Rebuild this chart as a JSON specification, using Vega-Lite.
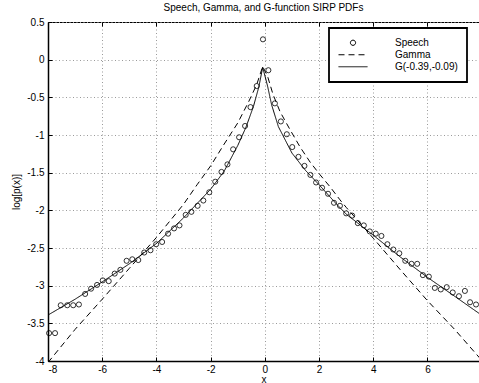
{
  "$schema": "https://vega.github.io/schema/vega-lite/v6.json",
  "width": 431,
  "height": 339,
  "autosize": {"type": "none"},
  "padding": {"left": 48, "top": 22, "right": 0, "bottom": 22},
  "background": "white",
  "title": {
    "text": "Speech, Gamma, and G-function SIRP PDFs",
    "font": "Liberation Sans",
    "fontSize": 10,
    "fontWeight": "normal",
    "color": "black",
    "anchor": "middle",
    "baseline": "alphabetic",
    "offset": 0,
    "dy": 3.5
  },
  "config": {
    "font": "Liberation Sans",
    "view": {"stroke": "black", "strokeWidth": 1},
    "axis": {
      "labelFont": "Liberation Sans",
      "labelFontSize": 10,
      "labelColor": "black",
      "titleFont": "Liberation Sans",
      "titleFontSize": 10,
      "titleFontWeight": "normal",
      "titleColor": "black",
      "domainColor": "black",
      "domainWidth": 1.5,
      "tickColor": "black",
      "tickWidth": 1,
      "tickSize": -4,
      "gridColor": "#9a9a9a",
      "gridDash": [1, 2.5],
      "gridWidth": 1,
      "gridOpacity": 1,
      "labelOverlap": false
    }
  },
  "datasets": {
    "speech": [
      {"series": "Speech", "x": -7.96, "y": -3.63},
      {"series": "Speech", "x": -7.74, "y": -3.63},
      {"series": "Speech", "x": -7.53, "y": -3.26},
      {"series": "Speech", "x": -7.29, "y": -3.26},
      {"series": "Speech", "x": -7.07, "y": -3.26},
      {"series": "Speech", "x": -6.86, "y": -3.25},
      {"series": "Speech", "x": -6.63, "y": -3.11},
      {"series": "Speech", "x": -6.41, "y": -3.04},
      {"series": "Speech", "x": -6.19, "y": -2.99},
      {"series": "Speech", "x": -5.98, "y": -2.93},
      {"series": "Speech", "x": -5.76, "y": -2.94},
      {"series": "Speech", "x": -5.54, "y": -2.84},
      {"series": "Speech", "x": -5.33, "y": -2.79},
      {"series": "Speech", "x": -5.10, "y": -2.67},
      {"series": "Speech", "x": -4.89, "y": -2.65},
      {"series": "Speech", "x": -4.67, "y": -2.66},
      {"series": "Speech", "x": -4.45, "y": -2.56},
      {"series": "Speech", "x": -4.22, "y": -2.53},
      {"series": "Speech", "x": -4.01, "y": -2.45},
      {"series": "Speech", "x": -3.79, "y": -2.42},
      {"series": "Speech", "x": -3.57, "y": -2.31},
      {"series": "Speech", "x": -3.35, "y": -2.24},
      {"series": "Speech", "x": -3.15, "y": -2.20},
      {"series": "Speech", "x": -2.92, "y": -2.06},
      {"series": "Speech", "x": -2.71, "y": -2.02},
      {"series": "Speech", "x": -2.48, "y": -1.94},
      {"series": "Speech", "x": -2.27, "y": -1.87},
      {"series": "Speech", "x": -2.05, "y": -1.76},
      {"series": "Speech", "x": -1.83, "y": -1.62},
      {"series": "Speech", "x": -1.60, "y": -1.49},
      {"series": "Speech", "x": -1.38, "y": -1.39},
      {"series": "Speech", "x": -1.17, "y": -1.19},
      {"series": "Speech", "x": -0.95, "y": -1.03},
      {"series": "Speech", "x": -0.73, "y": -0.88},
      {"series": "Speech", "x": -0.53, "y": -0.63},
      {"series": "Speech", "x": -0.30, "y": -0.35},
      {"series": "Speech", "x": -0.07, "y": 0.27},
      {"series": "Speech", "x": 0.13, "y": -0.14},
      {"series": "Speech", "x": 0.37, "y": -0.58},
      {"series": "Speech", "x": 0.59, "y": -0.82},
      {"series": "Speech", "x": 0.81, "y": -0.99},
      {"series": "Speech", "x": 1.01, "y": -1.16},
      {"series": "Speech", "x": 1.24, "y": -1.29},
      {"series": "Speech", "x": 1.46, "y": -1.41},
      {"series": "Speech", "x": 1.68, "y": -1.53},
      {"series": "Speech", "x": 1.89, "y": -1.63},
      {"series": "Speech", "x": 2.11, "y": -1.70},
      {"series": "Speech", "x": 2.33, "y": -1.78},
      {"series": "Speech", "x": 2.55, "y": -1.90},
      {"series": "Speech", "x": 2.77, "y": -1.94},
      {"series": "Speech", "x": 3.00, "y": -2.04},
      {"series": "Speech", "x": 3.22, "y": -2.07},
      {"series": "Speech", "x": 3.43, "y": -2.17},
      {"series": "Speech", "x": 3.65, "y": -2.20},
      {"series": "Speech", "x": 3.87, "y": -2.28},
      {"series": "Speech", "x": 4.09, "y": -2.31},
      {"series": "Speech", "x": 4.30, "y": -2.34},
      {"series": "Speech", "x": 4.52, "y": -2.45},
      {"series": "Speech", "x": 4.74, "y": -2.52},
      {"series": "Speech", "x": 4.96, "y": -2.57},
      {"series": "Speech", "x": 5.18, "y": -2.67},
      {"series": "Speech", "x": 5.41, "y": -2.71},
      {"series": "Speech", "x": 5.62, "y": -2.71},
      {"series": "Speech", "x": 5.83, "y": -2.86},
      {"series": "Speech", "x": 6.05, "y": -2.88},
      {"series": "Speech", "x": 6.27, "y": -3.03},
      {"series": "Speech", "x": 6.49, "y": -3.05},
      {"series": "Speech", "x": 6.71, "y": -3.02},
      {"series": "Speech", "x": 6.93, "y": -3.09},
      {"series": "Speech", "x": 7.16, "y": -3.14},
      {"series": "Speech", "x": 7.38, "y": -3.07},
      {"series": "Speech", "x": 7.57, "y": -3.22},
      {"series": "Speech", "x": 7.79, "y": -3.25}
    ],
    "curves": [
      {"series": "Gamma", "x": -8.0, "y": -4.02},
      {"series": "Gamma", "x": -7.0, "y": -3.58},
      {"series": "Gamma", "x": -6.0, "y": -3.18},
      {"series": "Gamma", "x": -5.0, "y": -2.77},
      {"series": "Gamma", "x": -4.0, "y": -2.36},
      {"series": "Gamma", "x": -3.0, "y": -1.92},
      {"series": "Gamma", "x": -2.5, "y": -1.66},
      {"series": "Gamma", "x": -2.0, "y": -1.41},
      {"series": "Gamma", "x": -1.5, "y": -1.12},
      {"series": "Gamma", "x": -1.0, "y": -0.84},
      {"series": "Gamma", "x": -0.6, "y": -0.56},
      {"series": "Gamma", "x": -0.3, "y": -0.33},
      {"series": "Gamma", "x": -0.08, "y": -0.09},
      {"series": "Gamma", "x": 0.1, "y": -0.22},
      {"series": "Gamma", "x": 0.3, "y": -0.46},
      {"series": "Gamma", "x": 0.56, "y": -0.69},
      {"series": "Gamma", "x": 0.93, "y": -0.93},
      {"series": "Gamma", "x": 1.3, "y": -1.16},
      {"series": "Gamma", "x": 1.67, "y": -1.36},
      {"series": "Gamma", "x": 2.04, "y": -1.53},
      {"series": "Gamma", "x": 2.41, "y": -1.69},
      {"series": "Gamma", "x": 2.77, "y": -1.86},
      {"series": "Gamma", "x": 3.0, "y": -1.96},
      {"series": "Gamma", "x": 4.0, "y": -2.37},
      {"series": "Gamma", "x": 5.0, "y": -2.79},
      {"series": "Gamma", "x": 6.0, "y": -3.2},
      {"series": "Gamma", "x": 7.0, "y": -3.58},
      {"series": "Gamma", "x": 7.95, "y": -3.97},
      {"series": "G(-0.39,-0.09)", "x": -8.0, "y": -3.39},
      {"series": "G(-0.39,-0.09)", "x": -7.0, "y": -3.18},
      {"series": "G(-0.39,-0.09)", "x": -6.0, "y": -2.95},
      {"series": "G(-0.39,-0.09)", "x": -5.0, "y": -2.71},
      {"series": "G(-0.39,-0.09)", "x": -4.0, "y": -2.44},
      {"series": "G(-0.39,-0.09)", "x": -3.0, "y": -2.10},
      {"series": "G(-0.39,-0.09)", "x": -2.5, "y": -1.91},
      {"series": "G(-0.39,-0.09)", "x": -2.0, "y": -1.72},
      {"series": "G(-0.39,-0.09)", "x": -1.5, "y": -1.48},
      {"series": "G(-0.39,-0.09)", "x": -1.0, "y": -1.14},
      {"series": "G(-0.39,-0.09)", "x": -0.7, "y": -0.90},
      {"series": "G(-0.39,-0.09)", "x": -0.42, "y": -0.62},
      {"series": "G(-0.39,-0.09)", "x": -0.22, "y": -0.36},
      {"series": "G(-0.39,-0.09)", "x": -0.08, "y": -0.10},
      {"series": "G(-0.39,-0.09)", "x": 0.1, "y": -0.35},
      {"series": "G(-0.39,-0.09)", "x": 0.25, "y": -0.60},
      {"series": "G(-0.39,-0.09)", "x": 0.5, "y": -0.89},
      {"series": "G(-0.39,-0.09)", "x": 1.0, "y": -1.24},
      {"series": "G(-0.39,-0.09)", "x": 1.5, "y": -1.47},
      {"series": "G(-0.39,-0.09)", "x": 2.0, "y": -1.66},
      {"series": "G(-0.39,-0.09)", "x": 2.6, "y": -1.90},
      {"series": "G(-0.39,-0.09)", "x": 3.0, "y": -2.05},
      {"series": "G(-0.39,-0.09)", "x": 4.0, "y": -2.33},
      {"series": "G(-0.39,-0.09)", "x": 5.0, "y": -2.62},
      {"series": "G(-0.39,-0.09)", "x": 6.0, "y": -2.89},
      {"series": "G(-0.39,-0.09)", "x": 7.0, "y": -3.14},
      {"series": "G(-0.39,-0.09)", "x": 7.95, "y": -3.38}
    ]
  },
  "resolve": {"axis": {"x": "independent"}},
  "layer": [
    {
      "data": {"name": "curves"},
      "mark": {"type": "line", "clip": true, "strokeWidth": 1},
      "encoding": {
        "x": {
          "field": "x",
          "type": "quantitative",
          "scale": {"domain": [-8, 7.9], "nice": false, "zero": false},
          "axis": {
            "orient": "bottom",
            "title": "x",
            "values": [-8, -6, -4, -2, 0, 2, 4, 6],
            "labelExpr": "'' + datum.value",
            "labelPadding": 7,
            "titlePadding": 0,
            "grid": true
          }
        },
        "y": {
          "field": "y",
          "type": "quantitative",
          "scale": {"domain": [-4, 0.5], "nice": false, "zero": false},
          "axis": {
            "title": "log[p(x)]",
            "values": [-4, -3.5, -3, -2.5, -2, -1.5, -1, -0.5, 0, 0.5],
            "labelExpr": "'' + datum.value",
            "labelPadding": 8,
            "titlePadding": 5,
            "grid": true
          }
        },
        "color": {
          "field": "series",
          "type": "nominal",
          "scale": {"domain": ["Speech", "Gamma", "G(-0.39,-0.09)"], "range": ["black", "black", "black"]},
          "legend": {
            "title": null,
            "orient": "none",
            "legendX": 281,
            "legendY": 6,
            "padding": 9,
            "fillColor": "white",
            "strokeColor": "black",
            "symbolSize": 841,
            "symbolType": "stroke",
            "symbolStrokeWidth": 1,
            "labelOffset": 27,
            "labelFont": "Liberation Sans",
            "labelFontSize": 10,
            "labelColor": "black",
            "rowPadding": 0,
            "clipHeight": 11.5,
            "encoding": {
              "symbols": {
                "shape": {
                  "condition": {"test": "datum.value === 'Speech'", "value": "M-0.18,0A0.18,0.18,0,1,0,0.18,0A0.18,0.18,0,1,0,-0.18,0Z"},
                  "value": "stroke"
                },
                "strokeDash": {"condition": {"test": "datum.value === 'Gamma'", "value": [6, 4]}, "value": [1, 0]},
                "fill": {"value": "transparent"},
                "stroke": {"value": "black"}
              },
              "legend": {"strokeWidth": {"value": 1.8}}
            }
          }
        },
        "strokeDash": {
          "field": "series",
          "type": "nominal",
          "scale": {"domain": ["Gamma", "G(-0.39,-0.09)"], "range": [[6, 4], [1, 0]]},
          "legend": null
        }
      }
    },
    {
      "data": {"name": "speech"},
      "mark": {"type": "point", "shape": "circle", "filled": false, "size": 26, "strokeWidth": 0.8, "opacity": 1},
      "encoding": {
        "x": {
          "field": "x",
          "type": "quantitative",
          "axis": {
            "orient": "top",
            "labels": false,
            "domain": false,
            "grid": false,
            "title": null,
            "values": [-8, -6, -4, -2, 0, 2, 4, 6]
          }
        },
        "y": {
          "field": "y",
          "type": "quantitative",
          "axis": {
            "title": "log[p(x)]",
            "values": [-4, -3.5, -3, -2.5, -2, -1.5, -1, -0.5, 0, 0.5],
            "labelExpr": "'' + datum.value",
            "labelPadding": 8,
            "titlePadding": 5,
            "grid": true
          }
        },
        "color": {"field": "series", "type": "nominal"}
      }
    }
  ]
}
